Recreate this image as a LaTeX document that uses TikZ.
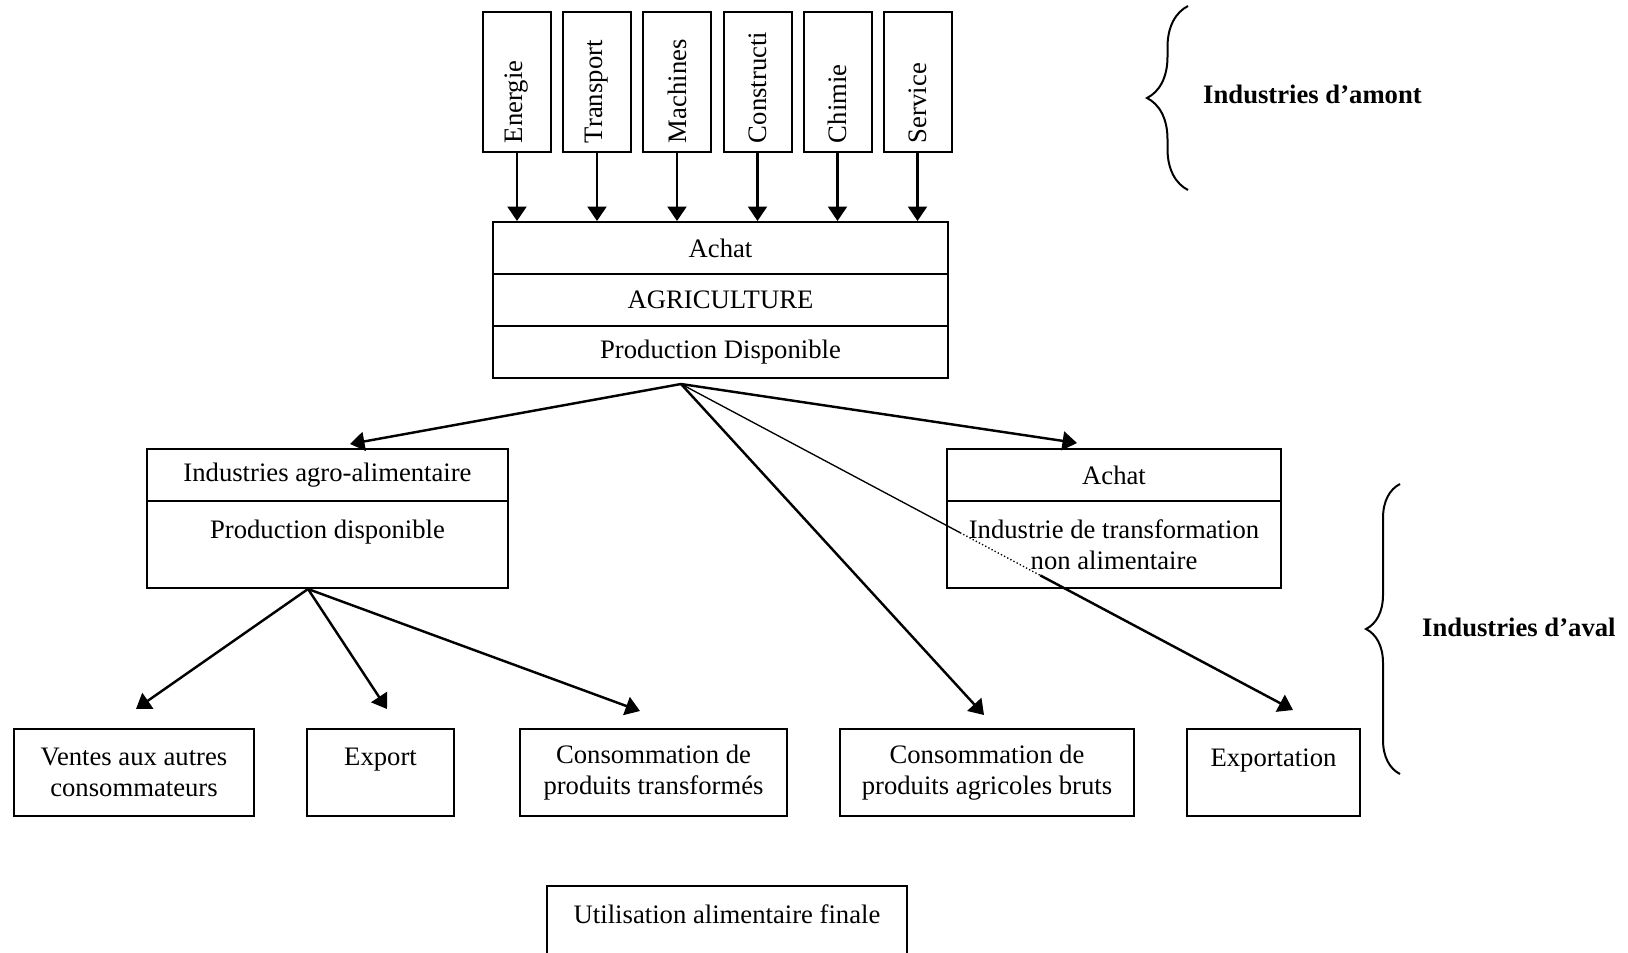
\documentclass[tikz,border=0pt]{standalone}
\usepackage{fontspec}
\setmainfont{Liberation Serif}
\usepackage{tikz}
\usetikzlibrary{positioning,arrows.meta,calc,decorations.pathreplacing}

\begin{document}
\begin{tikzpicture}[x=0.45pt,y=-0.45pt,->,>={Triangle[length=6.5pt,width=8.5pt]},line width=1.1pt,font=\fontsize{12}{13.8}\selectfont]
  \tikzstyle{cell}=[draw,rectangle,line width=0.9pt,inner sep=0pt,align=center]
  \tikzstyle{branch}=[cell,rotate=90,minimum height=30.6pt,text width=55pt,inner xsep=4pt,align=left]
  \tikzstyle{outlet}=[cell,minimum height=39.15pt]
  \tikzstyle{tag}=[font=\fontsize{12}{13.8}\selectfont\bfseries,anchor=west,inner sep=0pt]
  \useasboundingbox (0,0) rectangle (1628,952);

  \node[branch] (energie) at (517,82) {Energie};
  \node[branch] (transport) at (597,82) {Transport};
  \node[branch] (machines) at (677,82) {Machines};
  \node[branch] (constructi) at (757.5,82) {Constructi};
  \node[branch] (chimie) at (837.5,82) {Chimie};
  \node[branch] (service) at (917.5,82) {Service};

  \node[cell,minimum width=204.75pt,minimum height=23.4pt] (achat) at (720.5,248) {Achat};
  \node[cell,minimum width=204.75pt,minimum height=23.4pt] (agri) at (720.5,300) {AGRICULTURE};
  \node[cell,minimum width=204.75pt,minimum height=23.4pt] (prod) at (720.5,352) {Production Disponible};

  \node[cell,minimum width=162.45pt,minimum height=23.4pt] (agro) at (327.5,475) {Industries agro-alimentaire};
  \node[cell,minimum width=162.45pt,minimum height=39.15pt] (agro-prod) at (327.5,544.5) {Production disponible\\~};
  \node[cell,minimum width=150.3pt,minimum height=23.4pt] (achat-ind) at (1114,475) {Achat};
  \node[cell,minimum width=150.3pt,minimum height=39.15pt] (transfo) at (1114,544.5) {Industrie de transformation\\non alimentaire};

  \node[outlet,minimum width=108.2pt] (ventes) at (134,772.5) {Ventes aux autres\\consommateurs};
  \node[outlet,minimum width=66.15pt] (export) at (380.5,772.5) {Export\\~};
  \node[outlet,minimum width=120.15pt] (transformes) at (653.5,772.5) {Consommation de\\produits transformés};
  \node[outlet,minimum width=132.3pt] (bruts) at (987,772.5) {Consommation de\\produits agricoles bruts};
  \node[outlet,minimum width=77.85pt] (exportation) at (1273.5,772.5) {Exportation\\~};
  \node[outlet,minimum width=162pt] (utilisation) at (727,929.5) {Utilisation alimentaire finale\\~};

  \draw (energie.west) -- (energie.west |- achat.north);
  \draw (transport.west) -- (transport.west |- achat.north);
  \draw (machines.west) -- (machines.west |- achat.north);
  \draw (constructi.west) -- (constructi.west |- achat.north);
  \draw (chimie.west) -- (chimie.west |- achat.north);
  \draw (service.west) -- (service.west |- achat.north);

  \coordinate (agri-out) at (681,384);
  \draw (agri-out) -- ([shift={(22.5,-4)}]agro.north);
  \draw (agri-out) -- ([shift={(-37,-5)}]achat-ind.north);
  \draw (agri-out) -- ([shift={(-3,-13)}]bruts.north);
  \coordinate (exportation-in) at ([shift={(19.5,-18)}]exportation.north);
  \draw[-,line width=0.6pt] (agri-out) -- ($(agri-out)!0.456!(exportation-in)$);
  \draw[-,line width=0.6pt,densely dotted] ($(agri-out)!0.456!(exportation-in)$) -- ($(agri-out)!0.587!(exportation-in)$);
  \draw ($(agri-out)!0.587!(exportation-in)$) -- (exportation-in);

  \coordinate (agro-out) at (308,589);
  \draw (agro-out) -- ([shift={(2,-19)}]ventes.north);
  \draw (agro-out) -- ([shift={(6.5,-19)}]export.north);
  \draw (agro-out) -- ([shift={(-13.5,-17)}]transformes.north);

  \draw[-,line width=0.9pt,decorate,decoration={brace,amplitude=18.45pt}] (1188,190) -- (1188,6);
  \node[tag] (amont) at (1202,94) {Industries d’amont};
  \draw[-,line width=0.9pt,decorate,decoration={brace,amplitude=15.3pt}] (1400,774) -- (1400,484);
  \node[tag] (aval) at (1421,627) {Industries d’aval};
\end{tikzpicture}
\end{document}
